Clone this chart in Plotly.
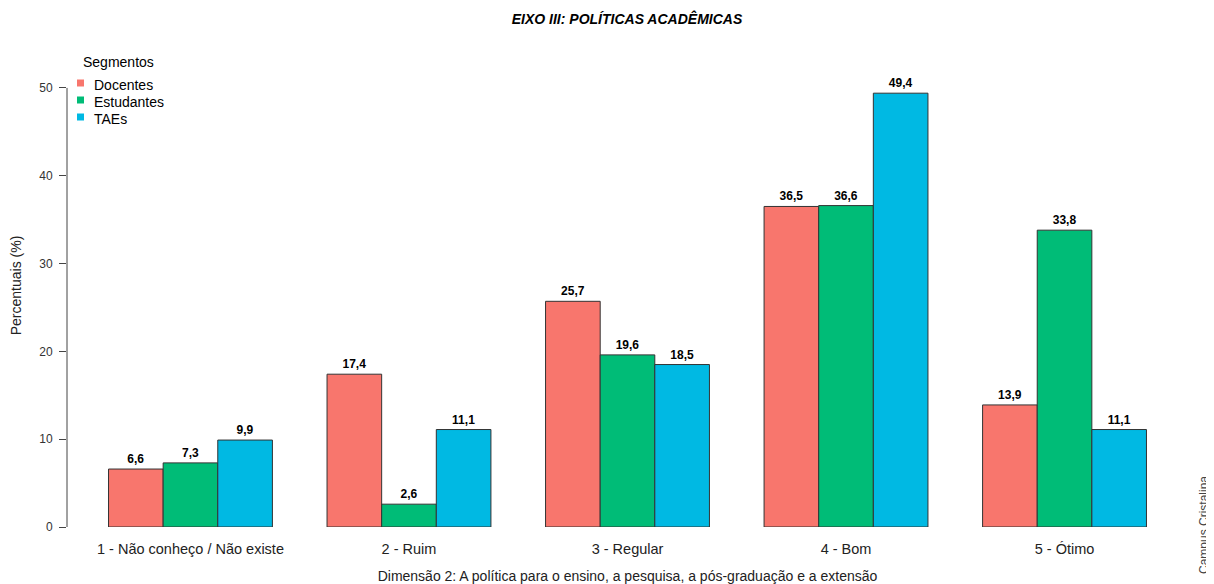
import plotly.graph_objects as go

# categories and series values (percent)
categorias = ["1 - Não conheço / Não existe", "2 - Ruim", "3 - Regular", "4 - Bom", "5 - Ótimo"]
docentes = [6.6, 17.4, 25.7, 36.5, 13.9]
estudantes = [7.3, 2.6, 19.6, 36.6, 33.8]
taes = [9.9, 11.1, 18.5, 49.4, 11.1]
y_ticks = [0, 10, 20, 30, 40, 50]

FONT = "Liberation Sans, Arial, sans-serif"

series = [
    ("Docentes", docentes, "#F8766D"),
    ("Estudantes", estudantes, "#00BC77"),
    ("TAEs", taes, "#00B9E3"),
]

# figure size (page body keeps an 8px margin) and plot margins in px
W, H = 1206, 576
ML, MR, MT, MB = 59, 26, 36, 57
PW, PH = W - ML - MR, H - MT - MB


def px_x(px):
    return (px - ML) / PW


def px_y(py):
    return (H - MB - py) / PH


fig = go.Figure()
for name, vals, color in series:
    fig.add_trace(
        go.Bar(
            x=categorias,
            y=vals,
            name=name,
            showlegend=False,
            marker_color=color,
            marker_line=dict(color="#333333", width=1),
            text=[f"{v:.1f}".replace(".", ",") for v in vals],
            textposition="outside",
            textfont=dict(family=FONT, size=12, color="black", weight="bold"),
            cliponaxis=False,
        )
    )

# axis line only from 0 to 50, like base R
fig.add_shape(type="line", xref="paper", yref="y", x0=0, x1=0,
              y0=y_ticks[0], y1=y_ticks[-1], line=dict(color="#444444", width=1))

# hand-made legend (tighter rows than plotly's own)
fig.add_annotation(text="Segmentos", xref="paper", yref="paper", x=px_x(73), y=px_y(54),
                   xanchor="left", yanchor="middle", showarrow=False,
                   font=dict(family=FONT, size=14, color="black"))
for i, (name, vals, color) in enumerate(series):
    yc = 77 + 17 * i
    fig.add_shape(type="rect", xref="paper", yref="paper",
                  x0=px_x(69), x1=px_x(76), y0=px_y(yc + 1.5), y1=px_y(yc - 5.5),
                  fillcolor=color, line_width=0)
    fig.add_annotation(text=name, xref="paper", yref="paper", x=px_x(84), y=px_y(yc),
                       xanchor="left", yanchor="middle", showarrow=False,
                       font=dict(family=FONT, size=14, color="black"))

fig.add_annotation(text="Campus Cristalina", xref="paper", yref="paper",
                   x=1.0, y=0.0, xanchor="center", yanchor="middle", xshift=MR - 10, yshift=2,
                   textangle=-90, showarrow=False,
                   font=dict(family=FONT, size=12, color="#444444"))

fig.update_layout(
    width=W, height=H,
    barmode="group", bargap=0.25, bargroupgap=0,
    plot_bgcolor="white", paper_bgcolor="white",
    margin=dict(l=ML, r=MR, t=MT, b=MB, autoexpand=False),
    font=dict(family=FONT, size=14, color="#222222"),
    title=dict(text="<b><i>EIXO III: POLÍTICAS ACADÊMICAS</i></b>", x=(620 - 1) / W,
               xanchor="center", y=1 - 11 / H, yanchor="middle",
               font=dict(family=FONT, size=14, color="black")),
    showlegend=False,
)

fig.update_xaxes(range=[-0.565, 4.565], showline=False, ticks="outside", ticklen=9,
                 tickcolor="rgba(0,0,0,0)", showgrid=False, automargin=False,
                 tickfont=dict(size=14.5, color="#222222"),
                 title=dict(text="Dimensão 2: A política para o ensino, a pesquisa, a pós-graduação e a extensão",
                            font=dict(size=14, color="#222222"), standoff=20))
fig.update_yaxes(range=[0, 55], tickvals=y_ticks, showgrid=False, zeroline=False,
                 showline=False, ticks="outside", ticklen=7, tickcolor="#444444",
                 ticklabelstandoff=4, automargin=False,
                 tickfont=dict(size=12, color="#333333"),
                 title=dict(text="Percentuais (%)", font=dict(size=14, color="#222222"), standoff=21))

fig.write_html("out.html")
